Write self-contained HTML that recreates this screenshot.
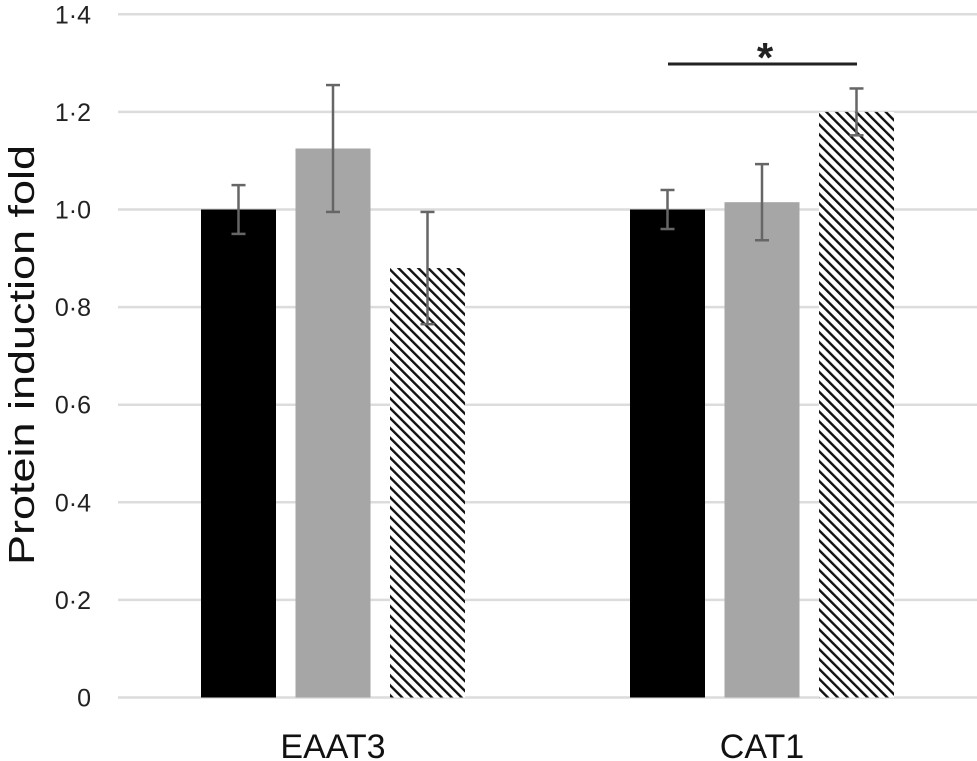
<!DOCTYPE html>
<html><head><meta charset="utf-8"><style>
body{margin:0;background:#fff;font-family:"Liberation Sans",sans-serif}
svg{display:block}
</style></head><body>
<svg id="c" width="977" height="761" viewBox="0 0 977 761">
<defs>
<pattern id="hatch" patternUnits="userSpaceOnUse" width="7" height="7" patternTransform="rotate(-45)">
<rect width="7" height="7" fill="#fff"/>
<rect x="0" y="0" width="2.4" height="7" fill="#111"/>
</pattern>
</defs>
<g id="grid"></g>
<g id="yt"></g>
<g id="bars"></g>
<g id="errs"></g>
<g id="xl"></g>
<text transform="translate(34,355) rotate(-90)" text-anchor="middle" font-size="36" textLength="420" lengthAdjust="spacingAndGlyphs" fill="#111">Protein induction fold</text>
<line x1="668" y1="64" x2="857" y2="64" stroke="#222" stroke-width="3"/>
<text x="765" y="72" text-anchor="middle" font-size="42" font-weight="bold" fill="#222">*</text>
</svg>
<script>
const categories=["EAAT3","CAT1"];
const seriesA=[1.0,1.0];
const seriesB=[1.125,1.015];
const seriesC=[0.88,1.2];
const errA=[0.05,0.04];
const errB=[0.13,0.078];
const errC=[0.115,0.048];
const yTicks=[0,0.2,0.4,0.6,0.8,1.0,1.2,1.4];
const yTickLabels=["0","0·2","0·4","0·6","0·8","1·0","1·2","1·4"];
const NS="http://www.w3.org/2000/svg";
const y0=697.5,yScale=488;
const yPos=v=>y0-v*yScale;
const groupStart=[201,630],barW=75,step=94.5;
function mk(tag,attrs,parent){const e=document.createElementNS(NS,tag);for(const k in attrs)e.setAttribute(k,attrs[k]);parent.appendChild(e);return e;}
const grid=document.getElementById('grid'),yt=document.getElementById('yt'),bars=document.getElementById('bars'),errs=document.getElementById('errs'),xl=document.getElementById('xl');
yTicks.forEach((t,i)=>{
 const l=mk('line',{x1:118,x2:977,y1:yPos(t),y2:yPos(t),stroke:'#dcdcdc','stroke-width':2.5},grid);
 
 
 const tx=mk('text',{x:91,y:yPos(t)+9,'text-anchor':'end','font-size':25,fill:'#222'},yt);
 tx.textContent=yTickLabels[i];
 
 
});
const series=[seriesA,seriesB,seriesC],errsArr=[errA,errB,errC],fills=['#000','#a6a6a6','url(#hatch)'];
categories.forEach((c,ci)=>{
 series.forEach((s,si)=>{
  const x=groupStart[ci]+si*step,v=s[ci];
  const r=mk('rect',{x:x,y:yPos(v),width:barW,height:y0-yPos(v),fill:fills[si]},bars);
  
  
  const e=errsArr[si][ci],cx=x+barW/2;
  const g=mk('g',{stroke:'#666','stroke-width':2.5},errs);
  
  
  mk('line',{x1:cx,x2:cx,y1:yPos(v+e),y2:yPos(v-e)},g);
  mk('line',{x1:cx-7,x2:cx+7,y1:yPos(v+e),y2:yPos(v+e)},g);
  mk('line',{x1:cx-7,x2:cx+7,y1:yPos(v-e),y2:yPos(v-e)},g);
 });
 const t=mk('text',{x:groupStart[ci]+step+barW/2,y:758,'text-anchor':'middle','font-size':34,fill:'#111'},xl);
 t.textContent=c;
 
 
});
</script>
</body></html>
